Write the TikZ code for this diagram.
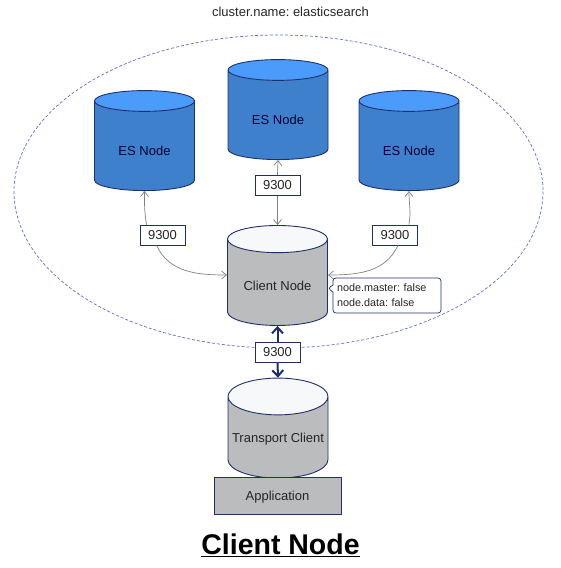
\documentclass[tikz,border=0pt]{standalone}
\usepackage{fontspec}
\setmainfont{Liberation Sans}
\usetikzlibrary{shapes.geometric,shapes.callouts,arrows.meta}
\definecolor{edgeblue}{HTML}{1F2F6E}
\definecolor{esbody}{HTML}{3F80CC}
\definecolor{estop}{HTML}{4A9BFA}
\definecolor{graybody}{HTML}{BBBCBE}
\definecolor{graytop}{HTML}{F6F8FA}
\definecolor{ringblue}{HTML}{5B73C4}
\definecolor{linkgray}{HTML}{808080}
\tikzset{
  esnode/.style={cylinder,shape border rotate=90,shape aspect=0.4,draw=edgeblue,line width=0.9pt,
    minimum width=100pt,minimum height=100pt,inner sep=0pt,cylinder uses custom fill,
    text height=18pt,text depth=0pt,
    cylinder body fill=esbody,cylinder end fill=estop,text=black!80!blue,font=\fontsize{13}{15}\selectfont},
  graynode/.style={esnode,cylinder body fill=graybody,cylinder end fill=graytop,text=black!85},
  portbox/.style={draw=edgeblue,fill=white,line width=0.9pt,minimum width=45pt,minimum height=20pt,
    inner sep=0pt,text=black!85,font=\fontsize{13}{15}\selectfont},
  link/.style={draw=linkgray,line width=0.7pt,-{Straight Barb[length=5pt,width=8pt]}},
  tlink/.style={draw=edgeblue,line width=2pt,-{Straight Barb[length=6pt,width=11pt]}}
}
\begin{document}
\frenchspacing
\begin{tikzpicture}[x=1pt,y=-1pt]
\useasboundingbox (0,0) rectangle (560,568);
\draw[ringblue,dash pattern=on 3pt off 2pt,line width=0.7pt] (278.5,191.5) ellipse (264.5 and 156.5);
\node[esnode] (esleft) at (144.5,146) {ES Node};
\node[esnode] (esmid) at (278,115) {ES Node};
\node[esnode] (esright) at (409,146) {ES Node};
\node[graynode,text height=15pt] (client) at (277.5,282.5) {Client Node};
\node[graynode,text height=9pt] (transport) at (278,437.5) {Transport Client};
\node[draw=edgeblue,fill=graybody,line width=0.9pt,minimum width=127pt,minimum height=37pt,inner sep=0pt,
  text height=9pt,text depth=0pt,text=black!85,font=\fontsize{13}{15}\selectfont] (app) at (277.5,495.5) {Application};
\node[portbox] (portleft) at (162.5,235) {9300};
\node[portbox] (portmid) at (277.5,185.5) {9300};
\node[portbox] (portright) at (395,235) {9300};
\node[portbox] (portdown) at (277.5,352) {9300};
\draw[link] (portleft.north west) ++(7,0) to[out=100,in=-90] (esleft.south);
\draw[link] (portleft.south west) ++(17,0) to[out=-65,in=180] ([yshift=7.5pt]client.west);
\draw[link] (portmid.north) -- (esmid.south);
\draw[link] (portmid.south) -- (client.north);
\draw[link] (portright.north east) ++(-9,0) to[out=80,in=-90] (esright.south);
\draw[link] (portright.south east) ++(-20,0) to[out=-115,in=0] ([yshift=7.5pt]client.east);
\draw[tlink] (portdown.north) -- (client.south);
\draw[tlink] (portdown.south) -- (transport.north);
\node[rectangle callout,draw=edgeblue,fill=white,line width=0.7pt,rounded corners=3pt,
  callout absolute pointer={(328,288)},minimum width=108pt,minimum height=35pt,inner sep=0pt,text width=100pt,
  font=\fontsize{10.8}{15}\selectfont,text=black!85,align=left] (flags) at (387,295.5) {node.master: false\\node.data: false};
\node[font=\fontsize{13}{15}\selectfont,text=black!85] (cluster) at (290.5,12) {cluster.name: elasticsearch};
\node[font=\fontsize{28.5}{32}\bfseries\selectfont,text=black,inner sep=0pt] (title) at (280.5,545) {\underline{Client Node}};
\end{tikzpicture}
\end{document}
